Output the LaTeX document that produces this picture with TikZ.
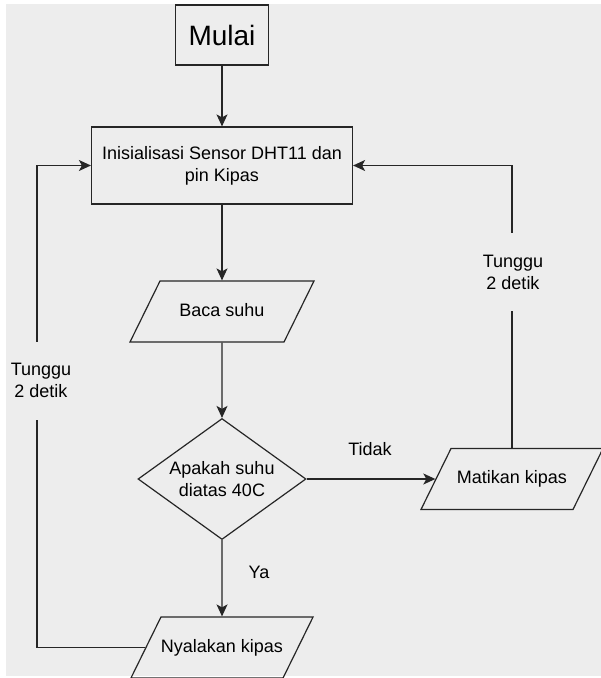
\documentclass[tikz,border=0pt]{standalone}
\usepackage{fontspec}
\setmainfont{Liberation Sans}
\usetikzlibrary{arrows.meta,shapes.geometric}
\definecolor{bgcol}{RGB}{237,237,237}
\tikzset{
  startbox/.style={rectangle, draw=black!85, line width=1.2pt, minimum width=93pt, minimum height=60pt, font=\fontsize{28}{32}\selectfont},
  procbox/.style={rectangle, draw=black!85, line width=1.2pt, minimum width=261pt, minimum height=77pt, align=center, font=\fontsize{18}{22}\selectfont},
  iobox/.style={trapezium, trapezium left angle=63.8, trapezium right angle=116.2, trapezium stretches body, draw=black!85, line width=1.2pt, text height=13pt, text depth=4pt, inner ysep=22pt, inner xsep=0pt, font=\fontsize{18}{22}\selectfont},
  decision/.style={diamond, aspect=1.39, draw=black!85, line width=1.2pt, minimum width=168pt, minimum height=121pt, inner sep=0pt, align=center, font=\fontsize{18}{22}\selectfont},
  arrow/.style={-{Stealth[length=12pt,width=11pt,inset=3pt]}, line width=1.2pt, black!85},
  waitlabel/.style={fill=bgcol, align=center, inner sep=1pt, minimum height=78pt, font=\fontsize{18}{22}\selectfont},
  edgelabel/.style={font=\fontsize{18}{22}\selectfont}
}
\begin{document}
\begin{tikzpicture}[x=1pt, y=-1pt]
  \useasboundingbox (0,0) rectangle (601,678);
  \fill[bgcol] (6,4) rectangle (601,676);
  \node[startbox] (mulai) at (222,35) {Mulai};
  \node[procbox] (init) at (222,165.5) {Inisialisasi Sensor DHT11 dan\\pin Kipas};
  \node[iobox, minimum width=184pt] (baca) at (222,311.5) {Baca suhu};
  \node[decision] (cek) at (222,479) {Apakah suhu\\diatas 40C};
  \node[iobox, minimum width=182pt] (mati) at (512,479) {Matikan kipas};
  \node[iobox, minimum width=169pt] (nyala) at (222,647.5) {Nyalakan kipas};
  \coordinate (lturn) at (37,165.5);
  \draw[arrow] (mulai)--(init); \draw[arrow] (init)--(baca); \draw[arrow] (baca)--(cek);
  \draw[arrow] (cek)--(mati); \draw[arrow] (cek)--(nyala);
  \draw[arrow] (nyala) -- (nyala -| lturn) -- (lturn) -- (init);
  \draw[arrow] (mati) |- (init);
  \node[edgelabel] (tidak) at (370,449) {Tidak};
  \node[edgelabel] (ya) at (259,572) {Ya};
  \node[waitlabel] (tunggukiri) at (41,380.5) {Tunggu\\2 detik};
  \node[waitlabel] (tunggukanan) at (513,272) {Tunggu\\2 detik};
\end{tikzpicture}
\end{document}
